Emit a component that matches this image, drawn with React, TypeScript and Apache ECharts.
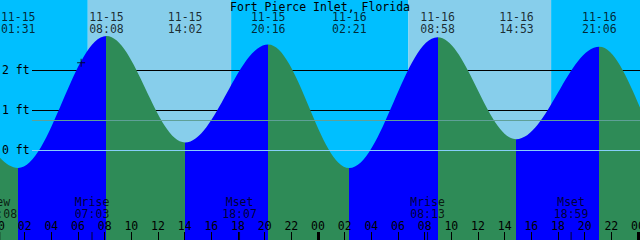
import React, { useEffect, useRef } from "react";
import * as echarts from "echarts";

const TITLE = "Fort Pierce Inlet, Florida";

// Tide extremes (date, time, level in ft). First two and last two lie outside the view.
const TIDE_DATES = ["11-14", "11-14", "11-15", "11-15", "11-15", "11-15", "11-16", "11-16", "11-16", "11-16", "11-17", "11-17"];
const TIDE_TIMES = ["11:55", "18:08", "01:31", "08:08", "14:02", "20:16", "02:21", "08:58", "14:53", "21:06", "03:08", "09:45"];
const TIDE_LEVELS = [0.2, 2.6, -0.45, 2.85, 0.19, 2.64, -0.45, 2.82, 0.27, 2.58, -0.4, 2.75];

const SUN_DATES = ["11-15", "11-15", "11-16", "11-16"];
const SUN_TIMES = ["06:44", "17:29", "06:47", "17:29"];

const MOON_DATES = ["11-15", "11-15", "11-15", "11-16", "11-16"];
const MOON_EVENTS = ["New", "Mrise", "Mset", "Mrise", "Mset"];
const MOON_TIMES = ["00:08", "07:03", "18:07", "08:13", "18:59"];

const LEVEL_LABELS = [0, 1, 2];
const GRID_LEVELS = [1, 2];
const ZERO_LEVEL = 0;
const MEAN_LEVEL = 0.74;

const NOW_DATE = "11-15";
const NOW_TIME = "06:14";
const NOW_LEVEL = 2.18;

const HOUR_MIN = 0.15;
const HOUR_MAX = 48.15;
const LEVEL_MIN = -2.25;
const LEVEL_MAX = 3.75;

const FONT = "'DejaVu Sans Mono', monospace";
const FS = 11.5;
const NIGHT = "#00bfff";
const DAY = "#87ceeb";
const RISE = "#0000ff";
const FALL = "#2e8b57";

const hourOf = (date: string, time: string) => {
  const day = parseInt(date.slice(3), 10) - 15;
  const [hh, mm] = time.split(":").map(Number);
  return day * 24 + hh + mm / 60;
};

function buildOption() {
  const tideHours = TIDE_DATES.map((d, i) => hourOf(d, TIDE_TIMES[i]));
  const tideData = tideHours.map((h, i) => [h, TIDE_LEVELS[i]]);
  const n = tideHours.length;
  const pieces: any[] = [];
  for (let i = 0; i < n - 1; i++) {
    pieces.push({
      gte: i === 0 ? -1000 : tideHours[i],
      lt: i === n - 2 ? 1000 : tideHours[i + 1],
      color: TIDE_LEVELS[i + 1] > TIDE_LEVELS[i] ? RISE : FALL,
    });
  }

  const sunHours = SUN_DATES.map((d, i) => hourOf(d, SUN_TIMES[i]));
  const bounds = [HOUR_MIN, ...sunHours, HOUR_MAX];
  const bands: any[] = [];
  for (let i = 0; i < bounds.length - 1; i++) {
    bands.push([
      { xAxis: bounds[i], itemStyle: { color: i % 2 === 0 ? NIGHT : DAY, opacity: 1 } },
      { xAxis: bounds[i + 1] },
    ]);
  }

  const tideLabels = tideHours
    .map((h, i) => ({ h, i }))
    .filter(({ h }) => h >= HOUR_MIN && h <= HOUR_MAX)
    .map(({ h, i }) => ({ value: [h, 23], name: `${TIDE_DATES[i]}\n${TIDE_TIMES[i]}` }));

  const moonHours = MOON_DATES.map((d, i) => hourOf(d, MOON_TIMES[i]));
  const moonLabels = moonHours.map((h, i) => ({ value: [h, 208], name: `${MOON_EVENTS[i]}\n${MOON_TIMES[i]}` }));
  const moonTicks = moonHours.map((h) => [h, 236]);

  const hLine = (level: number, lineStyle?: any) => [
    lineStyle ? { x: 32, yAxis: level, lineStyle } : { x: 32, yAxis: level },
    { x: 640, yAxis: level },
  ];

  const textStyle = { fontFamily: FONT, fontSize: FS, color: "#000" };

  const tickAxis = (interval: number, width: number) => ({
    type: "value",
    gridIndex: 1,
    position: "bottom",
    min: 0,
    max: 48,
    interval,
    z: 10,
    axisLine: { show: false },
    splitLine: { show: false },
    axisTick: { show: true, inside: true, length: 8, interval: 0, lineStyle: { color: "#000", width } },
    axisLabel: { show: false },
  });

  return {
    animation: false,
    title: {
      text: TITLE,
      left: "center",
      top: 1,
      padding: 0,
      textStyle: { ...textStyle, fontWeight: "normal" },
    },
    grid: [
      { left: 0, right: 0, top: 0, bottom: 0, containLabel: false, outerBoundsMode: "none" },
      { left: -2, right: 2, top: 0, bottom: 0, containLabel: false, outerBoundsMode: "none" },
    ],
    xAxis: [
      { type: "value", gridIndex: 0, min: HOUR_MIN, max: HOUR_MAX, show: false },
      {
        type: "value",
        gridIndex: 1,
        position: "bottom",
        min: 0,
        max: 48,
        interval: 2,
        z: 10,
        axisLine: { show: false },
        splitLine: { show: false },
        axisTick: { show: false },
        axisLabel: {
          show: true,
          inside: true,
          margin: 8,
          hideOverlap: false,
          ...textStyle,
          formatter: (v: number) => String(v % 24).padStart(2, "0"),
        },
      },
      tickAxis(2, 1),
      tickAxis(24, 3),
    ],
    yAxis: [
      {
        type: "value",
        gridIndex: 0,
        min: LEVEL_MIN,
        max: LEVEL_MAX,
        z: 10,
        axisLine: { show: false },
        axisTick: { show: false },
        splitLine: { show: false },
        axisLabel: {
          show: true,
          inside: true,
          margin: 2,
          customValues: LEVEL_LABELS,
          ...textStyle,
          formatter: "{value} ft",
        },
      },
      { type: "value", gridIndex: 1, min: 0, max: 240, inverse: true, show: false },
    ],
    visualMap: [
      { type: "piecewise", show: false, seriesIndex: 0, dimension: 0, pieces },
    ],
    series: [
      {
        type: "line",
        xAxisIndex: 0,
        yAxisIndex: 0,
        z: 3,
        data: tideData,
        smooth: 0.36,
        smoothMonotone: "x",
        showSymbol: false,
        symbol: "none",
        silent: true,
        lineStyle: { width: 0, opacity: 0 },
        areaStyle: { origin: "start", opacity: 1 },
        markArea: { silent: true, z: 1, label: { show: false }, data: bands },
        markLine: {
          silent: true,
          z: 5,
          symbol: "none",
          label: { show: false },
          data: [
            hLine(ZERO_LEVEL, { color: "#87cefa", width: 1, type: "solid" }),
            hLine(MEAN_LEVEL, { color: "#5fa097", width: 1, type: "solid" }),
          ],
        },
      },
      {
        type: "line",
        xAxisIndex: 0,
        yAxisIndex: 0,
        z: 2,
        data: tideData,
        showSymbol: false,
        symbol: "none",
        silent: true,
        lineStyle: { opacity: 0 },
        markLine: {
          silent: true,
          z: 2,
          symbol: "none",
          label: { show: false },
          lineStyle: { color: "#000", width: 1, type: "solid" },
          data: GRID_LEVELS.map((lv) => hLine(lv)),
        },
      },
      {
        type: "scatter",
        xAxisIndex: 0,
        yAxisIndex: 0,
        z: 6,
        silent: true,
        symbol: "path://M0,3.5h8v1h-8zM3.5,0h1v8h-1z",
        symbolSize: 8,
        itemStyle: { color: "#000" },
        data: [[hourOf(NOW_DATE, NOW_TIME), NOW_LEVEL]],
      },
      {
        type: "scatter",
        xAxisIndex: 1,
        yAxisIndex: 1,
        z: 10,
        silent: true,
        symbol: "circle",
        symbolSize: 1,
        itemStyle: { color: "transparent" },
        label: { show: true, position: "inside", formatter: "{b}", lineHeight: 12, ...textStyle },
        data: tideLabels,
      },
      {
        type: "scatter",
        xAxisIndex: 1,
        yAxisIndex: 1,
        z: 10,
        silent: true,
        symbol: "circle",
        symbolSize: 1,
        itemStyle: { color: "transparent" },
        label: { show: true, position: "inside", formatter: "{b}", lineHeight: 12, ...textStyle },
        data: moonLabels,
      },
      {
        type: "scatter",
        xAxisIndex: 1,
        yAxisIndex: 1,
        z: 10,
        silent: true,
        symbol: "rect",
        symbolSize: [1, 8],
        itemStyle: { color: "#000" },
        data: moonTicks,
      },
    ],
  };
}

export default function App() {
  const ref = useRef<HTMLDivElement>(null);
  useEffect(() => {
    document.body.style.margin = "0";
    if (!ref.current) return;
    const chart = echarts.init(ref.current, null, { renderer: "svg" });
    chart.setOption(buildOption() as any);
    return () => chart.dispose();
  }, []);
  return <div ref={ref} style={{ width: 640, height: 240 }} />;
}
